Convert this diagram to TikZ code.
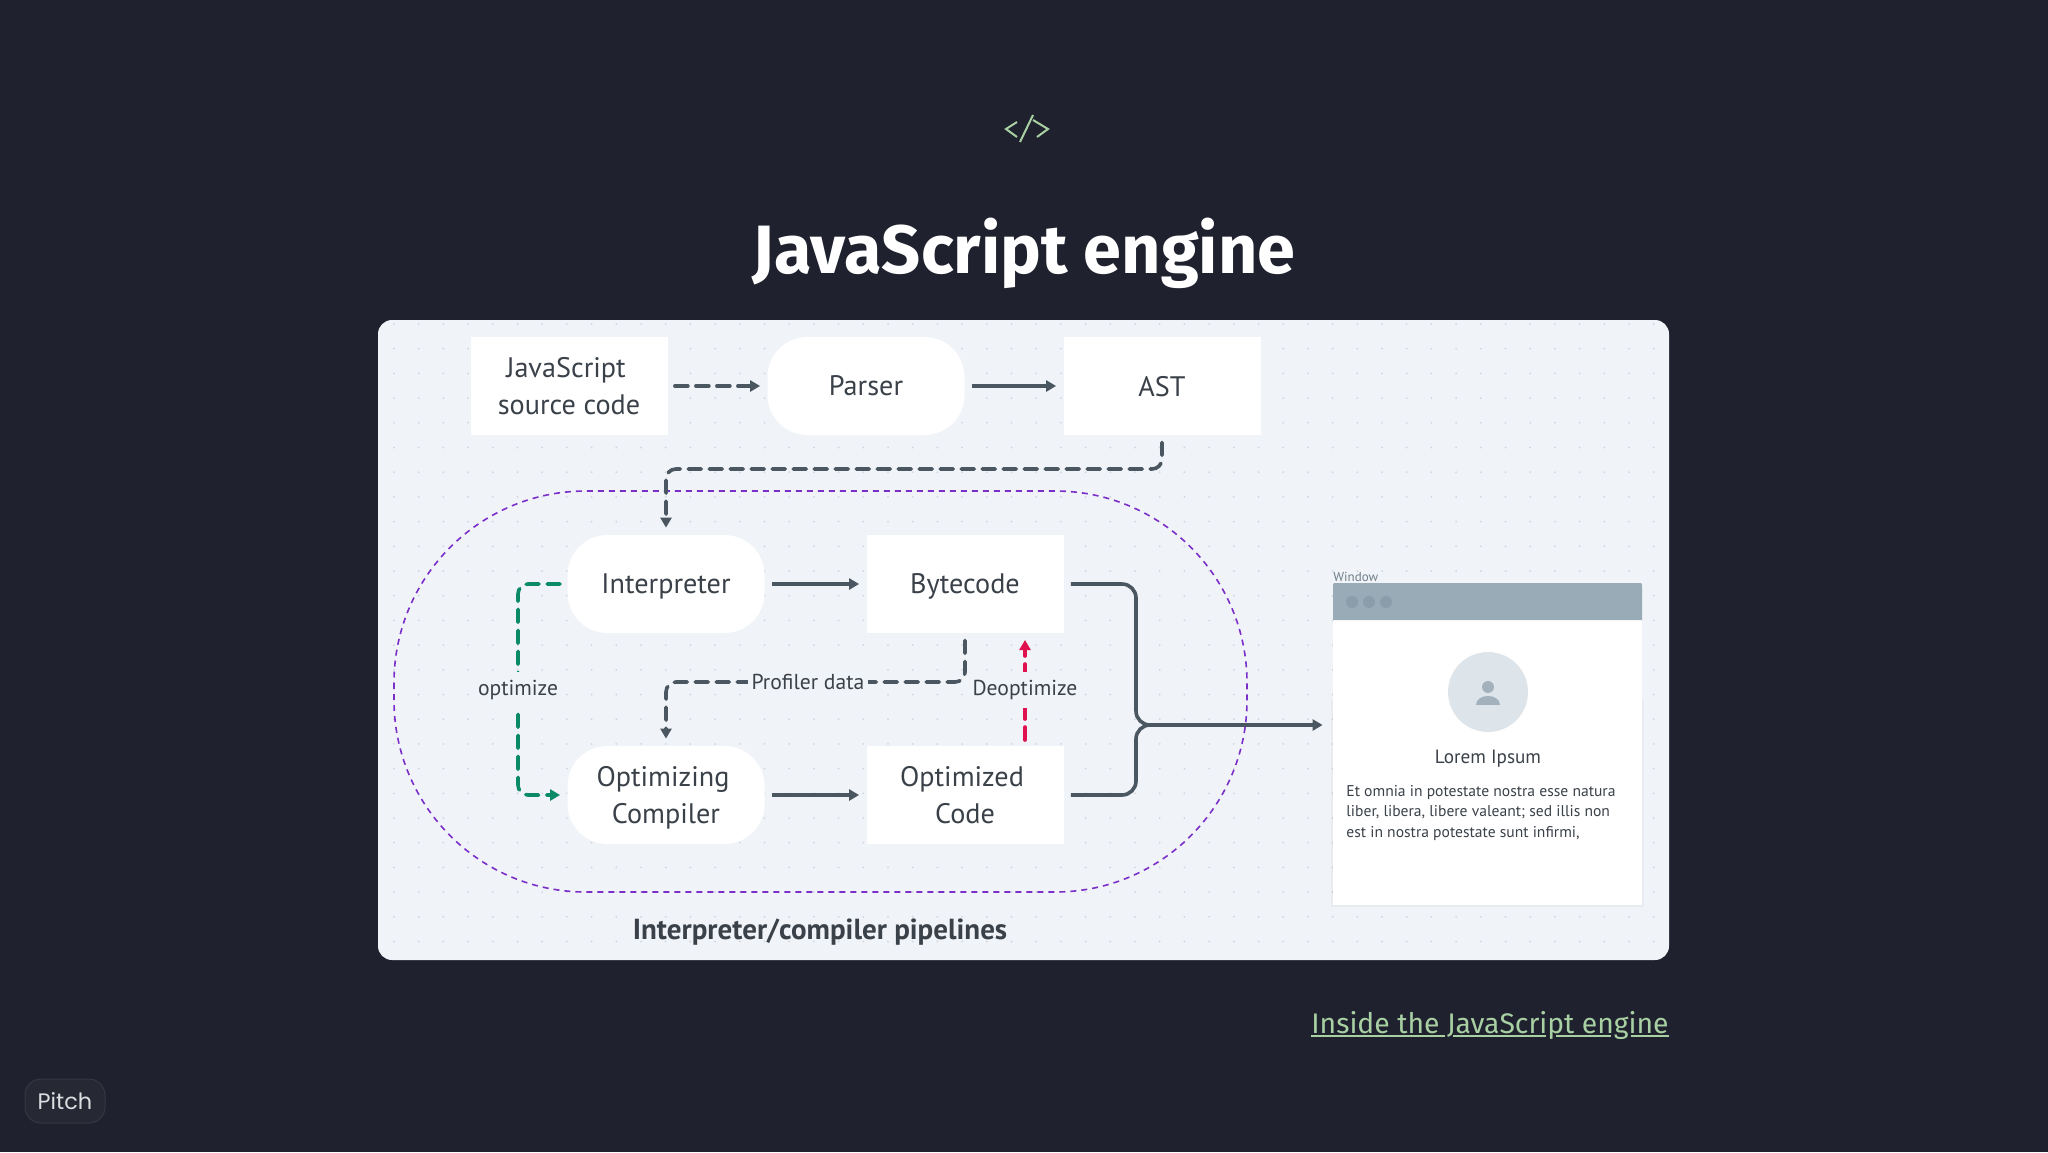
\documentclass[tikz,border=0pt]{standalone}
\usepackage{fontspec}
\setmainfont{PT Sans}
\newfontfamily\titlefont{Fira Sans}
\newfontfamily\badgefont{Poppins}
\usetikzlibrary{
    positioning,           % Relative positioning
    arrows.meta,           % Modern arrow tips
    calc                   % Coordinate calculations
}
\definecolor{SlideDark}{HTML}{1F222E}
\definecolor{CardGray}{HTML}{F0F3F7}
\definecolor{GridDot}{HTML}{D0D6DF}
\definecolor{FlowGray}{HTML}{4A5660}
\definecolor{LabelGray}{HTML}{3A4149}
\definecolor{FlowGreen}{HTML}{0B8A68}
\definecolor{FlowRed}{HTML}{E0114F}
\definecolor{LoopPurple}{HTML}{7B2FC9}
\definecolor{LinkGreen}{HTML}{A8D0A3}
\definecolor{BarGray}{HTML}{98ABB7}
\definecolor{BarDot}{HTML}{8A9DAA}
\definecolor{AvatarGray}{HTML}{DEE5EA}
\definecolor{PersonGray}{HTML}{A3B1BD}
\tikzset{stage box/.style={
    rectangle,
    fill=white,
    text=LabelGray,
    align=center,
    text depth=0pt,
    minimum height=49pt,
    minimum width=98.5pt,
    font=\fontsize{14.1}{18.5}\selectfont
}}
\tikzset{stage pill/.style={
    stage box,
    rounded corners=20pt
}}
\tikzset{flow label/.style={
    fill=CardGray,
    text=LabelGray,
    inner xsep=2pt,
    inner ysep=4pt,
    font=\fontsize{10.8}{13}\selectfont
}}
\tikzset{flow line/.style={
    draw=FlowGray,
    line width=1.8pt,
    -{Triangle[length=5pt,width=5.5pt]},
    shorten <=3.5pt,
    shorten >=3.5pt,
    rounded corners=5pt
}}
\tikzset{flow dash/.style={
    flow line,
    line cap=round,
    dash pattern=on 6.5pt off 4pt
}}

\begin{document}
\begin{tikzpicture}[x=0.5pt,y=-0.5pt]
    \useasboundingbox (0,0) rectangle (2048,1152);
    \fill[SlideDark] (0,0) rectangle (2048,1152);

    % header
    \draw[LinkGreen,line width=1pt] (1017,122) -- (1006,129) -- (1017,137);
    \draw[LinkGreen,line width=1pt] (1033,115) -- (1020,142);
    \draw[LinkGreen,line width=1pt] (1033,120) -- (1048,129) -- (1037,137);
    \node[text=white,font=\titlefont\bfseries\fontsize{34.2}{40}\selectfont] (title) at (1024,253) {JavaScript engine};

    % card and its dots
    \fill[CardGray,rounded corners=7pt] (378,320) rectangle (1669,960);
    \fill[GridDot] \foreach \dotx in {394,418.7,...,1660} {\foreach \doty in {324,348.7,...,955} {(\dotx,\doty) circle (0.5pt)}};

    % dashed loop
    \draw[LoopPurple,line width=0.8pt,dash pattern=on 3pt off 2.5pt,rounded corners=96pt] (394,491) rectangle (1247,892);

    % stages
    \node[stage box] (srccode) at (569,386) {JavaScript\hspace*{3pt}\\source code};
    \node[stage pill] (parser) at (866,386) {Parser};
    \node[stage box] (ast) at (1162,386) {AST};
    \node[stage pill] (interp) at (666,584) {Interpreter};
    \node[stage box] (bytecode) at (965,584) {Bytecode};
    \node[stage pill] (compiler) at (666,795) {Optimizing\hspace*{3pt}\\Compiler};
    \node[stage box] (optcode) at (965,795) {Optimized\hspace*{3pt}\\Code};

    % bends and joins
    \coordinate (topbend) at (900,469);
    \coordinate (profbend) at (800,682);
    \coordinate (greenbend) at (518,690);
    \coordinate (merge) at (1136,725);
    \coordinate (deoptstart) at (1025,740);
    \coordinate (deoptend) at (1025,640);

    % window
    \fill[black,opacity=0.03] (1331,700) rectangle (1644,907);
    \node[rectangle,fill=white,minimum width=154.5pt,minimum height=160.5pt] (window) at (1487.5,744) {};
    \fill[BarGray] (1333,620) -- (1333,587) .. controls (1333,583) .. (1337,583) -- (1638,583) .. controls (1642,583) .. (1642,587) -- (1642,620) -- cycle;
    \fill[BarDot] (1352,602) circle (3pt) (1369,602) circle (3pt) (1386,602) circle (3pt);
    \node[text=BarDot!80!black,anchor=south west,inner sep=0pt,font=\fontsize{6.5}{8}\selectfont] (winlabel) at (1333,582) {Window};
    \node[circle,fill=AvatarGray,minimum size=40pt,inner sep=0pt] (avatar) at (1488,692) {};
    \fill[PersonGray] (1488,687) circle (3pt);
    \fill[PersonGray] (1476,705) .. controls (1476,693) and (1500,693) .. (1500,705) -- cycle;
    \node[text=LabelGray,font=\fontsize{9.6}{11}\selectfont] (lorem) at (1488,759) {Lorem Ipsum};
    \node[text=LabelGray,anchor=north west,inner sep=0pt,align=left,font=\fontsize{7.8}{10.25}\selectfont] (lorembody) at (1346,785) {Et omnia in potestate nostra esse natura\\liber, libera, libere valeant; sed illis non\\est in nostra potestate sunt infirmi,};

    % flows
    \draw[flow dash] (srccode) -- (parser);
    \draw[flow line] (parser) -- (ast);
    \draw[flow dash] (ast.south) -- (ast.south |- topbend) -- (interp.north |- topbend) -- (interp.north);
    \draw[flow line] (interp) -- (bytecode);
    \draw[flow line] (compiler) -- (optcode);
    \draw[flow dash] (bytecode.south) -- (bytecode.south |- profbend) -- (compiler.north |- profbend) -- (compiler.north);
    \node[flow label] (proflabel) at (808,682) {Profiler data};
    \draw[flow dash,draw=FlowRed,shorten <=0pt,shorten >=0pt] (deoptstart) -- (deoptend);
    \node[flow label] (deoptlabel) at (1025,690) {Deoptimize};
    \draw[flow dash,draw=FlowGreen] (interp.west) -- (interp.west -| greenbend) -- (compiler.west -| greenbend) -- (compiler.west);
    \node[flow label] (optlabel) at (518,690) {optimize};
    \draw[flow line,-,rounded corners=7pt] (bytecode.east) -- (bytecode.east -| merge) -- (merge) -- ($(merge)!0.5!(window.west |- merge)$);
    \draw[flow line,rounded corners=7pt,shorten >=5pt] (optcode.east) -- (optcode.east -| merge) -- (merge) -- (window.west |- merge);

    % caption and link
    \node[text=LabelGray,font=\bfseries\fontsize{14.5}{17}\selectfont] (pipelines) at (820,932) {Interpreter/compiler pipelines};
    \node[text=LinkGreen,anchor=east,inner sep=0pt,font=\titlefont\fontsize{14.15}{17}\selectfont] (link) at (1669,1025) {Inside the JavaScript engine};
    \draw[LinkGreen,line width=1.2pt] (1311,1036) -- (1445,1036) (1453,1036) -- (1546,1036) (1556,1036) -- (1611,1036) (1631,1036) -- (1669,1036);

    % badge
    \node[rectangle,rounded corners=8pt,fill=SlideDark!97!white,draw=SlideDark!90!white,line width=0.5pt,minimum width=40pt,minimum height=22pt,text=white!85!SlideDark,font=\badgefont\fontsize{11.2}{14}\selectfont] (badge) at (65,1101) {Pitch};
\end{tikzpicture}
\end{document}
